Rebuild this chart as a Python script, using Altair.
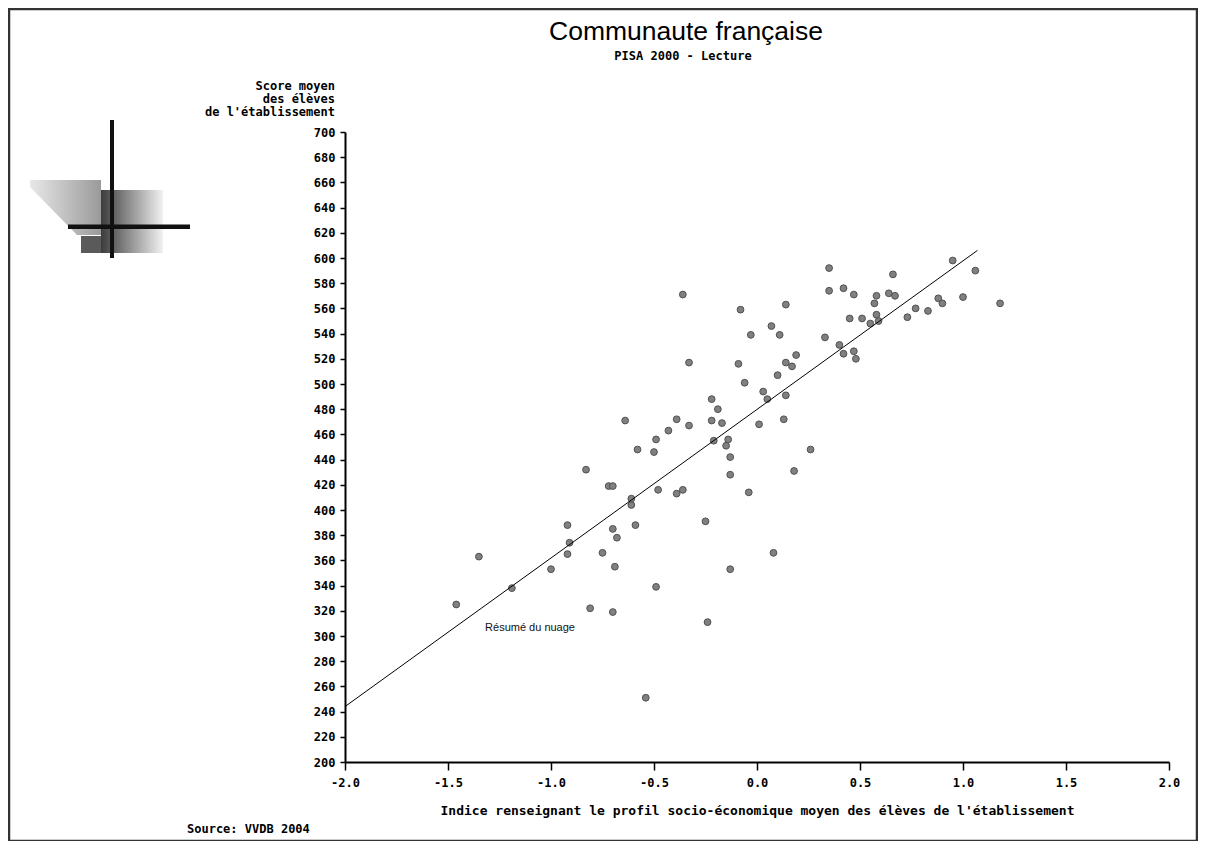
import altair as alt
import pandas as pd

# --- data -----------------------------------------------------------------
x_vals = [-1.46, -1.35, -1.19, -1.00, -0.92, -0.91, -0.92, -0.81, -0.75, -0.70,
          -0.68, -0.69, -0.70, -0.59, -0.61, -0.54, -0.49, -0.25, -0.13, -0.24, 0.08,
          -0.36, -0.33, -0.22, -0.19, -0.64, -0.39, -0.43, -0.33, -0.22, -0.17,
          -0.49, -0.21, -0.58, -0.50, -0.83, -0.72, -0.70, -0.48, -0.39, -0.36, -0.61,
          0.35, 0.95, 1.06, 0.66, 0.35, 0.42, 0.47, 0.58, 0.64, 0.67,
          0.57, 0.58, 0.59, 0.55, 0.45, 0.51, 0.73, 0.77, 0.83, 0.88,
          0.90, 1.00, 1.18, -0.08, 0.14, 0.07, -0.03, 0.11, 0.33, 0.40,
          0.42, 0.47, 0.48, -0.09, 0.19, 0.14, 0.17, 0.10, -0.06, 0.03,
          0.05, 0.14, 0.01, 0.13, -0.14, -0.15, -0.13, 0.26, -0.13, 0.18, -0.04]
y_vals = [325, 363, 338, 353, 388, 374, 365, 322, 366, 385,
          378, 355, 319, 388, 404, 251, 339, 391, 353, 311, 366,
          571, 517, 488, 480, 471, 472, 463, 467, 471, 469,
          456, 455, 448, 446, 432, 419, 419, 416, 413, 416, 409,
          592, 598, 590, 587, 574, 576, 571, 570, 572, 570,
          564, 555, 550, 548, 552, 552, 553, 560, 558, 568,
          564, 569, 564, 559, 563, 546, 539, 539, 537, 531,
          524, 526, 520, 516, 523, 517, 514, 507, 501, 494,
          488, 491, 468, 472, 456, 451, 442, 448, 428, 431, 414]

line_x = [-2.0, 1.07]
line_y = [244, 606]

x_ticks = [-2.0, -1.5, -1.0, -0.5, 0.0, 0.5, 1.0, 1.5, 2.0]
y_ticks = list(range(200, 701, 20))

title_text = "Communaute française"
subtitle_text = "PISA 2000 - Lecture"
y_title_lines = ["Score moyen", "des élèves", "de l'établissement"]
x_title_text = "Indice renseignant le profil socio-économique moyen des élèves de l'établissement"
source_text = "Source: VVDB 2004"
note_text = "Résumé du nuage"
note_x = [-1.32]
note_y = [306]

pts = pd.DataFrame({"x": x_vals, "y": y_vals})
reg = pd.DataFrame({"x": line_x, "y": line_y})
note = pd.DataFrame({"x": note_x, "y": note_y, "t": [note_text]})
one = pd.DataFrame({"k": [0]})

MONO = "DejaVu Sans Mono"

xscale = alt.Scale(domain=[-2, 2], nice=False, zero=False)
yscale = alt.Scale(domain=[200, 700], nice=False, zero=False)

x_axis = alt.Axis(values=x_ticks, format=".1f",
                  labelExpr="replace(datum.label, '−', '-')",
                  tickSize=8, tickWidth=1.5, tickColor="black",
                  domainColor="black", domainWidth=2,
                  labelFont=MONO, labelFontWeight="bold", labelFontSize=12,
                  labelColor="black", labelPadding=7, labelFlush=False,
                  labelOverlap=False, labelBound=False,
                  grid=False, title=x_title_text,
                  titleFont=MONO, titleFontWeight="bold", titleFontSize=13,
                  titleColor="black", titlePadding=16)
y_axis = alt.Axis(values=y_ticks, format="d",
                  tickSize=5, tickWidth=1.5, tickColor="black",
                  domainColor="black", domainWidth=2,
                  labelFont=MONO, labelFontWeight="bold", labelFontSize=12,
                  labelColor="black", labelPadding=5, labelFlush=False,
                  labelOverlap=False, labelBound=False,
                  grid=False, title=None)

points = alt.Chart(pts).mark_circle(
    size=46, color="#808080", stroke="#505050", strokeWidth=1, opacity=1
).encode(
    x=alt.X("x:Q", scale=xscale, axis=x_axis),
    y=alt.Y("y:Q", scale=yscale, axis=y_axis),
)

line = alt.Chart(reg).mark_line(color="black", strokeWidth=1).encode(
    x=alt.X("x:Q", scale=xscale, axis=x_axis),
    y=alt.Y("y:Q", scale=yscale, axis=y_axis),
)

note_mark = alt.Chart(note).mark_text(
    align="left", baseline="middle", font="Liberation Sans", fontSize=11, color="#111"
).encode(
    x=alt.X("x:Q", scale=xscale, axis=x_axis),
    y=alt.Y("y:Q", scale=yscale, axis=y_axis),
    text="t:N",
)

title_mark = alt.Chart(one).mark_text(
    text=title_text, align="center", baseline="alphabetic",
    font="Liberation Sans", fontSize=26.5, color="black"
).encode(x=alt.value(341), y=alt.value(-92.5))

subtitle_mark = alt.Chart(one).mark_text(
    text=subtitle_text, align="center", baseline="alphabetic",
    font=MONO, fontWeight="bold", fontSize=12, color="black"
).encode(x=alt.value(338), y=alt.value(-72))

ytitle_mark = alt.Chart(one).mark_text(
    text=y_title_lines, align="right", baseline="top", lineHeight=13,
    font=MONO, fontWeight="bold", fontSize=12, color="black"
).encode(x=alt.value(-10), y=alt.value(-51))

source_mark = alt.Chart(one).mark_text(
    text=source_text, align="left", baseline="middle",
    font=MONO, fontWeight="bold", fontSize=12, color="black"
).encode(x=alt.value(-158), y=alt.value(697))

frame = alt.Chart(one).mark_rect(
    fillOpacity=0, stroke="#333333", strokeWidth=2.5
).encode(x=alt.value(-336), x2=alt.value(852), y=alt.value(-123), y2=alt.value(709))

# --- decorative logo ---------------------------------------------------------
light_grad = alt.Gradient(gradient="linear",
                          stops=[alt.GradientStop(color="#e8e8e8", offset=0),
                                 alt.GradientStop(color="#9a9a9a", offset=1)],
                          x1=0, x2=1, y1=0, y2=0)
dark_grad = alt.Gradient(gradient="linear",
                         stops=[alt.GradientStop(color="#3c3c3c", offset=0),
                                alt.GradientStop(color="#f2f2f2", offset=1)],
                         x1=0, x2=1, y1=0, y2=0)

logo_light = alt.Chart(one).mark_point(
    shape="M0,0L71,0L71,55L47,55L0,7Z", size=4, filled=True,
    fill=light_grad, strokeWidth=0, opacity=1
).encode(x=alt.value(-315), y=alt.value(48))

logo_dark = alt.Chart(one).mark_rect(fill=dark_grad).encode(
    x=alt.value(-244), x2=alt.value(-182), y=alt.value(58), y2=alt.value(121))
logo_low = alt.Chart(one).mark_rect(fill="#5a5a5a").encode(
    x=alt.value(-264), x2=alt.value(-244), y=alt.value(104), y2=alt.value(121))
logo_v = alt.Chart(one).mark_rect(fill="#111111").encode(
    x=alt.value(-235), x2=alt.value(-231), y=alt.value(-12), y2=alt.value(126))
logo_h = alt.Chart(one).mark_rect(fill="#111111").encode(
    x=alt.value(-277), x2=alt.value(-155), y=alt.value(92.5), y2=alt.value(97))

chart = alt.layer(
    frame, logo_light, logo_dark, logo_low, logo_v, logo_h,
    points, line, note_mark, title_mark, subtitle_mark, ytitle_mark, source_mark
).resolve_scale(x="shared", y="shared").properties(
    width=824, height=630,
    padding={"left": 337, "top": 124, "right": 29, "bottom": 79},
    autosize=alt.AutoSizeParams(type="none"),
    background="white",
).configure_view(stroke=None).configure_axis(labelOverlap=False, labelBound=False)

chart.save("out.html", embed_options={"renderer": "svg", "actions": False})
